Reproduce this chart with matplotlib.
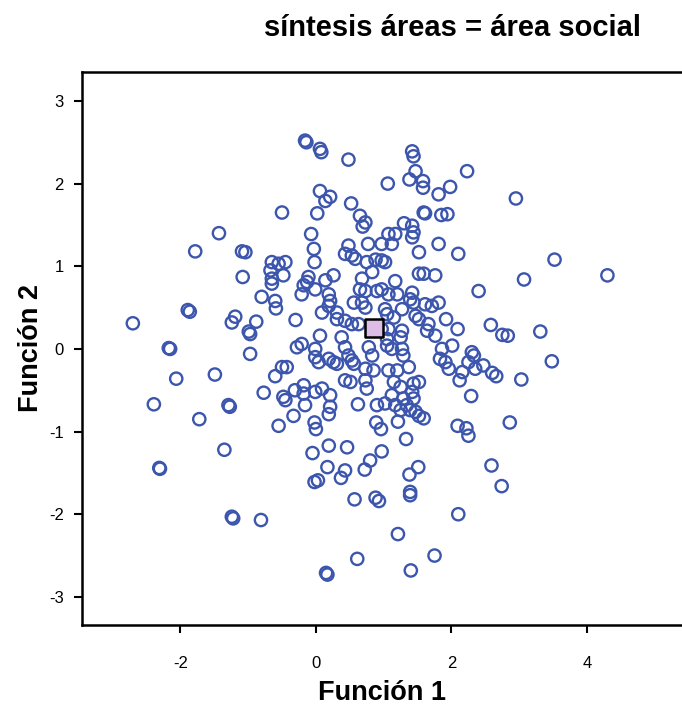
import matplotlib.pyplot as plt

plt.rcParams['font.family'] = ['Liberation Sans', 'DejaVu Sans']

# discriminant scores, group "área social"
func1 = [
    -0.16, -0.14, 0.06, 0.08, 0.48, 1.42, 1.44, 1.47, 1.38, 1.58, 2.23, 1.06,
    1.58, 0.06, 0.21, 0.14, 1.98, 1.81, 2.95, 0.52, -0.50, 0.02, 0.65, 0.73,
    0.69, 1.59, 1.61, 1.85, 1.94, 1.30, 1.42,
    1.44, -0.07, 1.07, 1.17, 0.97, 1.42, 1.81, 0.48, 0.77, -1.43, -1.78, -1.09,
    -1.04, -0.03, 0.43, 0.53, 0.58, 0.75, 0.97, 1.02, 1.52, 2.10, -0.45, -0.02,
    -0.65, -0.55, 3.52, 0.88, 1.12,
    1.52, 1.59, 1.76, -0.67, -0.65, -0.65, -1.08, -0.48, -0.11, -0.13, -0.18,
    -0.21, 0.26, 0.14, -0.01, 0.19, 0.21, 0.68, 0.83, 0.65, 0.73, 0.90, 0.97,
    1.07, 1.17, 1.20, 1.42, 1.39, 1.44, 1.61, 1.71, 1.81, 0.56, 0.68, 0.73,
    0.19, -0.80, -0.60, -0.59, 2.40, 3.07, 4.30,
    -1.89, -1.86, -1.19, -1.24, -0.88, -2.70, -0.99, -0.97, -2.17, -2.15, 0.09,
    0.31, 0.31, 0.43, 0.53, 0.63, 1.02, 1.05, 1.15, 1.27, 1.47, 1.52, 1.66,
    1.64, 1.76, 1.92, 2.09, -0.30, 0.97, 1.07, 1.27, 0.06, 0.38, 1.05, 1.25,
    -0.21, -0.28, -0.01, 0.43, 0.78, 1.05, 1.12, 1.27, 1.86, 2.01, 2.58, 2.75,
    2.83, 3.31,
    -0.01, 0.04, 0.48, 0.83, 1.29, 1.83, 1.91, 2.30, 2.33, 2.25, -0.43, 0.19,
    0.26, 0.31, 0.53, 0.56, 0.73, 0.85, 1.07, 1.20, 1.37, 1.96, 2.16, 2.35,
    -0.97, -2.06, -1.49, -0.60, -0.50, 2.47, 2.60, 2.66, 3.48, 3.03, 2.12, 0.43,
    0.51, 0.73, 1.15, 1.25, 1.44, 1.52, -0.31, -0.18, 0.09, 0.75,
    -0.48, -0.45, -0.55, -0.18, -0.01, 0.21, -0.16, -0.33, 0.21, 0.19, -0.02,
    0.00, 0.62, 0.90, 1.02, 1.12, 1.17, 1.25, 1.29, 1.34, 1.39, 1.44, 1.47,
    1.52, 1.59, 1.42, 1.21, 0.89, 0.96, 2.29, 2.09, 2.22, 2.25, -0.77, -2.39,
    -1.29, -1.27, -1.72, 2.86,
    1.33, -0.05, 0.19, 0.46, 0.97, 0.80, 0.72, 0.17, 0.43, 0.37, 0.03, -0.02,
    1.51, 1.38, 0.57, 0.88, 0.93, 1.39, 1.39, -1.35, -2.31, -2.30, 2.59, 2.74,
    -1.24, -1.22, -0.81, 2.10, 1.21, 0.61, 1.75, 0.15, 0.17, 1.40,
]
func2 = [
    2.52, 2.50, 2.42, 2.38, 2.29, 2.39, 2.33, 2.15, 2.05, 2.03, 2.15, 2.00,
    1.95, 1.91, 1.84, 1.79, 1.96, 1.87, 1.82, 1.76, 1.65, 1.64, 1.61, 1.53,
    1.48, 1.65, 1.64, 1.62, 1.63, 1.52, 1.49,
    1.41, 1.39, 1.39, 1.39, 1.27, 1.35, 1.27, 1.25, 1.27, 1.40, 1.18, 1.18,
    1.17, 1.21, 1.15, 1.13, 1.09, 1.05, 1.07, 1.05, 1.17, 1.15, 1.05, 1.05,
    1.05, 1.03, 1.08, 1.08, 1.27,
    0.91, 0.91, 0.89, 0.95, 0.85, 0.79, 0.87, 0.89, 0.87, 0.81, 0.77,
    0.66, 0.89, 0.83, 0.72, 0.66, 0.58, 0.85, 0.93, 0.72, 0.70, 0.70, 0.72,
    0.66, 0.82, 0.66, 0.68, 0.60, 0.56, 0.54, 0.52, 0.56, 0.56, 0.56, 0.50,
    0.52, 0.63, 0.58, 0.49, 0.70, 0.84, 0.89,
    0.47, 0.45, 0.39, 0.32, 0.33, 0.31, 0.21, 0.18, 0.01, 0.00, 0.44,
    0.44, 0.36, 0.34, 0.30, 0.30, 0.48, 0.42, 0.38, 0.48, 0.40, 0.36, 0.30,
    0.22, 0.16, 0.36, 0.24, 0.35, 0.24, 0.24, 0.22, 0.16, 0.14, 0.12, 0.14,
    0.06, 0.02, 0.00, 0.02, 0.02, 0.04, 0.00, 0.00, 0.00, 0.04, 0.29, 0.17,
    0.16, 0.21,
    -0.10, -0.16, -0.08, -0.08, -0.08, -0.12, -0.16, -0.04, -0.08, -0.16, -0.22, -0.12,
    -0.16, -0.18, -0.14, -0.18, -0.24, -0.26, -0.26, -0.26, -0.22, -0.24, -0.28, -0.24,
    -0.06, -0.36, -0.31, -0.33, -0.22, -0.20, -0.29, -0.33, -0.15, -0.37, -0.38, -0.38,
    -0.40, -0.38, -0.40, -0.46, -0.42, -0.40, -0.50, -0.44, -0.48, -0.48,
    -0.58, -0.62, -0.93, -0.54, -0.52, -0.56, -0.68, -0.81, -0.70, -0.79, -0.89,
    -0.97, -0.67, -0.68, -0.66, -0.56, -0.68, -0.74, -0.60, -0.68, -0.74, -0.60, -0.76,
    -0.81, -0.84, -0.52, -0.88, -0.89, -0.97, -0.57, -0.93, -0.96, -1.05, -0.53, -0.67,
    -0.68, -0.70, -0.85, -0.89,
    -1.09, -1.26, -1.17, -1.19, -1.24, -1.35, -1.46, -1.43, -1.47, -1.56, -1.59, -1.61,
    -1.43, -1.52, -1.82, -1.80, -1.84, -1.73, -1.77, -1.22, -1.44, -1.45, -1.41, -1.66,
    -2.03, -2.05, -2.07, -2.00, -2.24, -2.54, -2.50, -2.71, -2.73, -2.68,
]

# group centroid
cent1 = [0.85]
cent2 = [0.25]

fig = plt.figure(figsize=(6.82, 7.08), dpi=100)
ax = fig.add_axes([82 / 682, 83 / 708, 600 / 682, 553 / 708])

ax.scatter(func1, func2, s=78, facecolors='none', edgecolors='#3d56ad',
           linewidths=1.7, zorder=2, clip_on=False)
ax.scatter(cent1, cent2, s=150, marker='s', facecolors='#dcbde6',
           edgecolors='black', linewidths=1.8, zorder=3)

ax.set_xlim(-3.45, 5.40)
ax.set_ylim(-3.34, 3.35)
ax.set_xticks([-2, 0, 2, 4])
ax.set_yticks([-3, -2, -1, 0, 1, 2, 3])
ax.set_xticklabels(['-2', '0', '2', '4'])
ax.set_yticklabels(['-3', '-2', '-1', '0', '1', '2', '3'])
ax.tick_params(direction='out', length=6, width=1.5, labelsize=12, color='black')
ax.tick_params(axis='x', pad=16)
ax.tick_params(axis='y', pad=7)
for side in ['left', 'top', 'bottom']:
    ax.spines[side].set_linewidth(1.8)
ax.spines['right'].set_visible(False)

ax.set_xlabel('Función 1', fontsize=19.5, fontweight='bold', labelpad=7)
ax.set_ylabel('Función 2', fontsize=19.5, fontweight='bold', labelpad=4)
fig.text(0.663, 0.960, 'síntesis áreas = área social', ha='center', va='center',
         fontsize=21, fontweight='bold')

fig.savefig('out.png', dpi=100)
